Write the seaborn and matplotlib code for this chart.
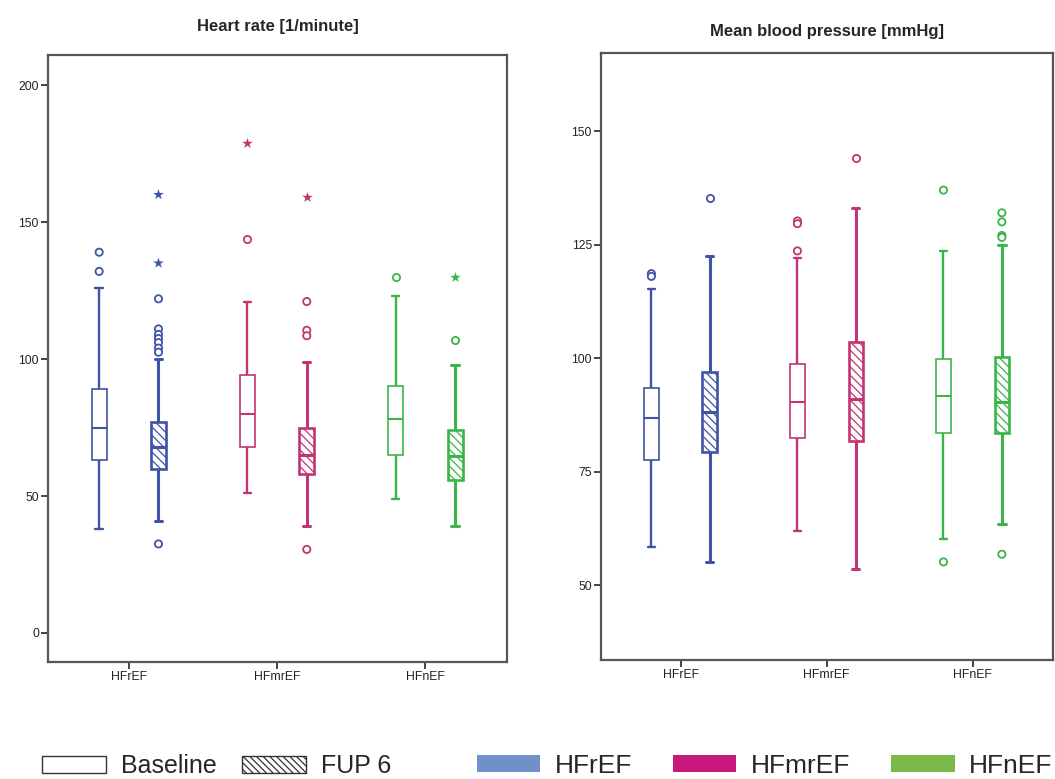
import numpy as np
import pandas as pd
import matplotlib
matplotlib.use("Agg")
import matplotlib.pyplot as plt
import seaborn as sns
from matplotlib.patches import Patch

# ---------------- data ----------------
groups = ["HFrEF", "HFmrEF", "HFnEF"]
times = ["Baseline", "FUP 6"]

# Heart rate [1/minute]: whisker low, Q1, median, Q3, whisker high per group
hr_lo_base = [38, 51, 49]
hr_q1_base = [63, 68, 65]
hr_med_base = [75, 80, 78]
hr_q3_base = [89, 94, 90]
hr_hi_base = [126, 121, 123]
hr_lo_fup = [41, 39, 39]
hr_q1_fup = [60, 58, 56]
hr_med_fup = [68, 65, 64.5]
hr_q3_fup = [77, 75, 74]
hr_hi_fup = [100, 99, 98]

hr_out_group = ["HFrEF", "HFrEF",
                "HFrEF", "HFrEF", "HFrEF", "HFrEF", "HFrEF", "HFrEF", "HFrEF", "HFrEF", "HFrEF", "HFrEF",
                "HFmrEF", "HFmrEF",
                "HFmrEF", "HFmrEF", "HFmrEF", "HFmrEF", "HFmrEF",
                "HFnEF",
                "HFnEF", "HFnEF"]
hr_out_time = ["Baseline", "Baseline",
               "FUP 6", "FUP 6", "FUP 6", "FUP 6", "FUP 6", "FUP 6", "FUP 6", "FUP 6", "FUP 6", "FUP 6",
               "Baseline", "Baseline",
               "FUP 6", "FUP 6", "FUP 6", "FUP 6", "FUP 6",
               "Baseline",
               "FUP 6", "FUP 6"]
hr_out_value = [139, 132,
                160, 135, 122, 111, 109, 107.5, 106, 104, 102.5, 32.5,
                179, 144,
                159, 121, 110.5, 108.5, 30.5,
                130,
                130, 107]
hr_out_kind = ["o", "o",
               "*", "*", "o", "o", "o", "o", "o", "o", "o", "o",
               "*", "o",
               "*", "o", "o", "o", "o",
               "o",
               "*", "o"]

# Mean blood pressure [mmHg]
bp_lo_base = [58.4, 61.9, 60.2]
bp_q1_base = [77.5, 82.3, 83.5]
bp_med_base = [86.9, 90.3, 91.6]
bp_q3_base = [93.5, 98.7, 99.9]
bp_hi_base = [115.3, 122.0, 123.6]
bp_lo_fup = [55.0, 53.5, 63.4]
bp_q1_fup = [79.4, 81.7, 83.5]
bp_med_fup = [88.2, 91.0, 90.4]
bp_q3_fup = [96.9, 103.5, 100.2]
bp_hi_fup = [122.5, 133.0, 124.9]

bp_out_group = ["HFrEF", "HFrEF", "HFrEF",
                "HFmrEF", "HFmrEF", "HFmrEF", "HFmrEF",
                "HFnEF", "HFnEF",
                "HFnEF", "HFnEF", "HFnEF", "HFnEF", "HFnEF"]
bp_out_time = ["Baseline", "Baseline", "FUP 6",
               "Baseline", "Baseline", "Baseline", "FUP 6",
               "Baseline", "Baseline",
               "FUP 6", "FUP 6", "FUP 6", "FUP 6", "FUP 6"]
bp_out_value = [118.6, 118.0, 135.3,
                130.2, 129.6, 123.6, 144.0,
                137.0, 55.1,
                132.0, 130.0, 127.0, 126.6, 56.8]
bp_out_kind = ["o"] * 14

line_colors = {"HFrEF": "#3F53A8", "HFmrEF": "#C23574", "HFnEF": "#3AB54A"}
legend_colors = {"HFrEF": "#7090C8", "HFmrEF": "#C8187E", "HFnEF": "#7AB84A"}


def box_frame(lo_b, q1_b, med_b, q3_b, hi_b, lo_f, q1_f, med_f, q3_f, hi_f):
    rows = []
    for i, g in enumerate(groups):
        for v in (lo_b[i], q1_b[i], med_b[i], q3_b[i], hi_b[i]):
            rows.append((g, "Baseline", v))
        for v in (lo_f[i], q1_f[i], med_f[i], q3_f[i], hi_f[i]):
            rows.append((g, "FUP 6", v))
    return pd.DataFrame(rows, columns=["group", "time", "value"])


hr_box = box_frame(hr_lo_base, hr_q1_base, hr_med_base, hr_q3_base, hr_hi_base,
                   hr_lo_fup, hr_q1_fup, hr_med_fup, hr_q3_fup, hr_hi_fup)
bp_box = box_frame(bp_lo_base, bp_q1_base, bp_med_base, bp_q3_base, bp_hi_base,
                   bp_lo_fup, bp_q1_fup, bp_med_fup, bp_q3_fup, bp_hi_fup)
hr_out = pd.DataFrame({"group": hr_out_group, "time": hr_out_time,
                       "value": hr_out_value, "kind": hr_out_kind})
bp_out = pd.DataFrame({"group": bp_out_group, "time": bp_out_time,
                       "value": bp_out_value, "kind": bp_out_kind})

# ---------------- style ----------------
sns.set_theme(style="white")
plt.rcParams["font.family"] = ["Liberation Sans", "DejaVu Sans"]
plt.rcParams["hatch.linewidth"] = 0.9

HATCH = "\\\\\\\\"

fig = plt.figure(figsize=(10.55, 7.79), dpi=100)
W, H = 1055, 779
ax1 = fig.add_axes([48 / W, 1 - 662 / H, (507 - 48) / W, (662 - 55) / H])
ax2 = fig.add_axes([601 / W, 1 - 660 / H, (1053 - 601) / W, (660 - 53) / H])


def draw(ax, box_df, out_df):
    for g in groups:
        c = line_colors[g]
        for t in times:
            fup = t == "FUP 6"
            lw_box = 1.9 if fup else 1.2
            lw_wh = 2.2 if fup else 1.7
            sub = box_df[(box_df.group == g) & (box_df.time == t)]
            sns.boxplot(data=sub, x="group", y="value", hue="time",
                        order=groups, hue_order=times,
                        palette={tt: c for tt in times}, dodge=True,
                        width=0.8, gap=0.75, whis=(0, 100),
                        linewidth=lw_box, linecolor=c, legend=False, ax=ax,
                        boxprops=dict(facecolor="white", edgecolor=c,
                                      hatch=HATCH if fup else None,
                                      linewidth=lw_box),
                        whiskerprops=dict(color=c, linewidth=lw_wh),
                        capprops=dict(color=c, linewidth=lw_wh),
                        medianprops=dict(color=c, linewidth=lw_box + 0.3))
            for kind in ["o", "*"]:
                osub = out_df[(out_df.group == g) & (out_df.time == t) & (out_df.kind == kind)]
                if len(osub) == 0:
                    continue
                if kind == "o":
                    sns.stripplot(data=osub, x="group", y="value", hue="time",
                                  order=groups, hue_order=times, dodge=True,
                                  jitter=False, palette={tt: "white" for tt in times},
                                  edgecolor=c, linewidth=1.3, size=5.2,
                                  marker="o", legend=False, ax=ax, zorder=5)
                else:
                    sns.stripplot(data=osub, x="group", y="value", hue="time",
                                  order=groups, hue_order=times, dodge=True,
                                  jitter=False, palette={tt: c for tt in times},
                                  edgecolor=c, linewidth=0, size=8,
                                  marker="*", legend=False, ax=ax, zorder=5)


draw(ax1, hr_box, hr_out)
draw(ax2, bp_box, bp_out)

for ax in (ax1, ax2):
    ax.set_xlim(-0.545, 2.55)
    ax.set_xlabel("")
    ax.set_ylabel("")
    for s in ax.spines.values():
        s.set_visible(True)
        s.set_color("#555555")
        s.set_linewidth(1.6)
    ax.tick_params(axis="both", which="both", direction="out", length=5,
                   width=1.4, color="#444444", labelsize=8.8,
                   labelcolor="#222222", left=True, bottom=True, pad=1.5)
    ax.set_xticks(range(len(groups)))
    ax.set_xticklabels(groups)

ax1.set_ylim(-10.6, 211)
ax1.set_yticks([0, 50, 100, 150, 200])
ax2.set_ylim(33.5, 167.2)
ax2.set_yticks([50, 75, 100, 125, 150])

ax1.set_title("Heart rate [1/minute]", fontsize=12, fontweight="bold", pad=17)
ax2.set_title("Mean blood pressure [mmHg]", fontsize=12, fontweight="bold", pad=12)

# ---------------- legends ----------------
h_time = [Patch(facecolor="white", edgecolor="#333333", linewidth=1.0, label="Baseline"),
          Patch(facecolor="white", edgecolor="#333333", linewidth=1.0,
                hatch="\\\\\\\\\\", label="FUP 6")]
leg1 = fig.legend(handles=h_time, loc="center left",
                  bbox_to_anchor=(42 / W, 1 - 766 / H), ncol=2, frameon=False,
                  fontsize=18, handlelength=2.55, handleheight=0.68,
                  handletextpad=0.62, columnspacing=1.0, borderpad=0,
                  borderaxespad=0)
h_grp = [Patch(facecolor=legend_colors[g], edgecolor="none", label=g) for g in groups]
leg2 = fig.legend(handles=h_grp, loc="center left",
                  bbox_to_anchor=(477 / W, 1 - 766 / H), ncol=3, frameon=False,
                  fontsize=19, handlelength=2.4, handleheight=0.62,
                  handletextpad=0.55, columnspacing=1.55, borderpad=0,
                  borderaxespad=0)

fig.savefig("out.png", dpi=100)
